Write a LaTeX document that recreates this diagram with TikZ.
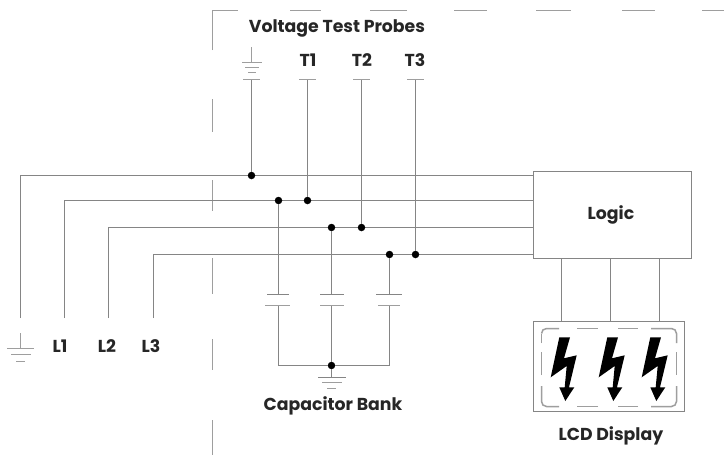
\documentclass[tikz,border=0pt]{standalone}
\usepackage{fontspec}
\setmainfont{Poppins}
\definecolor{wire}{gray}{0.52}
\definecolor{pale}{gray}{0.62}
\tikzset{
  wireline/.style={draw=wire,line width=1.1pt},
  paleline/.style={draw=pale,line width=1.5pt},
  plate/.style={draw=wire,line width=1.1pt},
  joint/.style={circle,fill=black,inner sep=0pt,minimum size=7.5pt},
  label/.style={font=\fontsize{17.3}{20}\selectfont\bfseries,text=black!85,inner sep=0pt,text height=12pt,text depth=0pt},
  boxnode/.style={draw=wire,line width=1.1pt,inner sep=0pt,fill=white},
  bolt/.style={fill=black,draw=none}
}
\begin{document}
\begin{tikzpicture}[x=1pt,y=-1pt]
\useasboundingbox (0,0) rectangle (724,455);
% frame
\draw[paleline] (212.5,50) -- (212.5,10.5) -- (238,10.5);
\foreach \a/\b in {290/321,370/407,454/487,536/571,622/655,702/724}
  \draw[paleline] (\a,10.5) -- (\b,10.5);
\foreach \a/\b in {99/132,180/211,258/294,339/370,420/455}
  \draw[paleline] (212.5,\a) -- (212.5,\b);
% boxes
\node[boxnode,anchor=north west,minimum width=158pt,minimum height=87pt] (logic) at (533,171) {};
\node[label] (logict) at (611,213) {Logic};
\node[boxnode,anchor=north west,minimum width=151pt,minimum height=90pt] (lcd) at (533,321) {};
\node[label] (lcdt) at (611,434.5) {LCD Display};
\node[label] (probes) at (337,26.5) {Voltage Test Probes};
\node[label] (capb) at (333,404) {Capacitor Bank};
\node[label] (t1) at (308,60.5) {T1};
\node[label] (t2) at (362,60.5) {T2};
\node[label] (t3) at (415,60.5) {T3};
\node[label] (l1) at (60,346.5) {L1};
\node[label] (l2) at (107,346.5) {L2};
\node[label] (l3) at (151,346.5) {L3};
% named points
\coordinate (g0) at (20.5,318);
\coordinate (p1) at (64.5,318);
\coordinate (p2) at (108.5,318);
\coordinate (p3) at (153.5,318);
\coordinate (wg) at (533,175.5);
\coordinate (w1) at (533,200.5);
\coordinate (w2) at (533,227.5);
\coordinate (w3) at (533,254.5);
\coordinate (tg) at (251.5,79);
\coordinate (tt1) at (307.5,79);
\coordinate (tt2) at (361.5,79);
\coordinate (tt3) at (415.5,79);
% mains
\draw[wireline] (g0) |- (wg);
\draw[wireline] (p1) |- (w1);
\draw[wireline] (p2) |- (w2);
\draw[wireline] (p3) |- (w3);
% joints
\node[joint] (jg) at (251.5,175.5) {};
\node[joint] (ja1) at (278.5,200.5) {};
\node[joint] (jb1) at (307.5,200.5) {};
\node[joint] (ja2) at (331.5,227.5) {};
\node[joint] (jb2) at (361.5,227.5) {};
\node[joint] (ja3) at (389.5,254.5) {};
\node[joint] (jb3) at (415.5,254.5) {};
\node[joint] (jc) at (331.5,365.5) {};
% probe wires
\draw[wireline] (tg) -- (jg);
\draw[wireline] (tt1) -- (jb1);
\draw[wireline] (tt2) -- (jb2);
\draw[wireline] (tt3) -- (jb3);
\draw[paleline] (299,79.5) -- (316,79.5);
\draw[paleline] (353,79.5) -- (370,79.5);
\draw[paleline] (407,79.5) -- (424,79.5);
\draw[paleline] (243,79.5) -- (260,79.5);
% probe ground
\draw[paleline] (251.5,47) -- (251.5,62.5);
\draw[paleline] (242,62.5) -- (262,62.5);
\draw[paleline] (245,67.5) -- (259,67.5);
\draw[paleline] (248,72.5) -- (256,72.5);
% line ground
\draw[paleline] (20.5,333) -- (20.5,348.5);
\draw[paleline] (7,348.5) -- (34,348.5);
\draw[paleline] (11,354.5) -- (31,354.5);
\draw[paleline] (16,361.5) -- (25,361.5);
% capacitors
\coordinate (c1a) at (278.5,294.5);
\coordinate (c1b) at (278.5,305.5);
\coordinate (c2a) at (331.5,294.5);
\coordinate (c2b) at (331.5,305.5);
\coordinate (c3a) at (389.5,294.5);
\coordinate (c3b) at (389.5,305.5);
\draw[wireline] (ja1) -- (c1a);
\draw[wireline] (ja2) -- (c2a);
\draw[wireline] (ja3) -- (c3a);
\draw[wireline] (c1b) |- (jc);
\draw[wireline] (c2b) -- (jc);
\draw[wireline] (c3b) |- (jc);
\draw[plate] (267,294.5) -- (289,294.5);
\draw[paleline] (265,305.5) -- (290,305.5);
\draw[plate] (320,294.5) -- (344,294.5);
\draw[paleline] (320,305.5) -- (344,305.5);
\draw[plate] (376,294.5) -- (402,294.5);
\draw[paleline] (378,305.5) -- (400,305.5);
% bank ground
\coordinate (gb) at (331.5,377.5);
\draw[wireline] (jc) -- (gb);
\draw[plate] (318,377.5) -- (346,377.5);
\draw[paleline] (322,382.5) -- (342,382.5);
\draw[paleline] (327,388.5) -- (336,388.5);
% logic to lcd
\foreach \x in {561.5,610.5,659.5}
  \draw[wireline] (\x,258) -- (\x,321);
% lcd inner dashed
\draw[paleline] (541.5,333.5) arc[start angle=180,end angle=90,radius=5pt] -- (559,328.5);
\draw[paleline] (577,328.5) -- (598,328.5);
\draw[paleline] (618,328.5) -- (638,328.5);
\draw[paleline] (651,328.5) -- (671.5,328.5) arc[start angle=90,end angle=0,radius=5pt] -- (676.5,343);
\draw[paleline] (676.5,352) -- (676.5,375);
\draw[paleline] (676.5,386) -- (676.5,401.5) arc[start angle=0,end angle=-90,radius=5pt] -- (651,406.5);
\draw[paleline] (638,406.5) -- (618,406.5);
\draw[paleline] (598,406.5) -- (577,406.5);
\draw[paleline] (559,406.5) -- (546.5,406.5) arc[start angle=-90,end angle=-180,radius=5pt] -- (541.5,386);
\draw[paleline] (541.5,375) -- (541.5,352);
\draw[paleline] (541.5,343) -- (541.5,333.5);
% bolts
\foreach \dx in {0,48,91}
  \fill[bolt,shift={(\dx,0)}] (559.3,337.3) -- (570,337.3) -- (564,358.3) -- (576.7,355.3) -- (569,387.3) -- (574.3,387.3) -- (565.3,401) -- (559.3,387.3) -- (564.7,387.3) -- (566.7,366) -- (550.7,377.3) -- cycle;
\end{tikzpicture}
\end{document}
